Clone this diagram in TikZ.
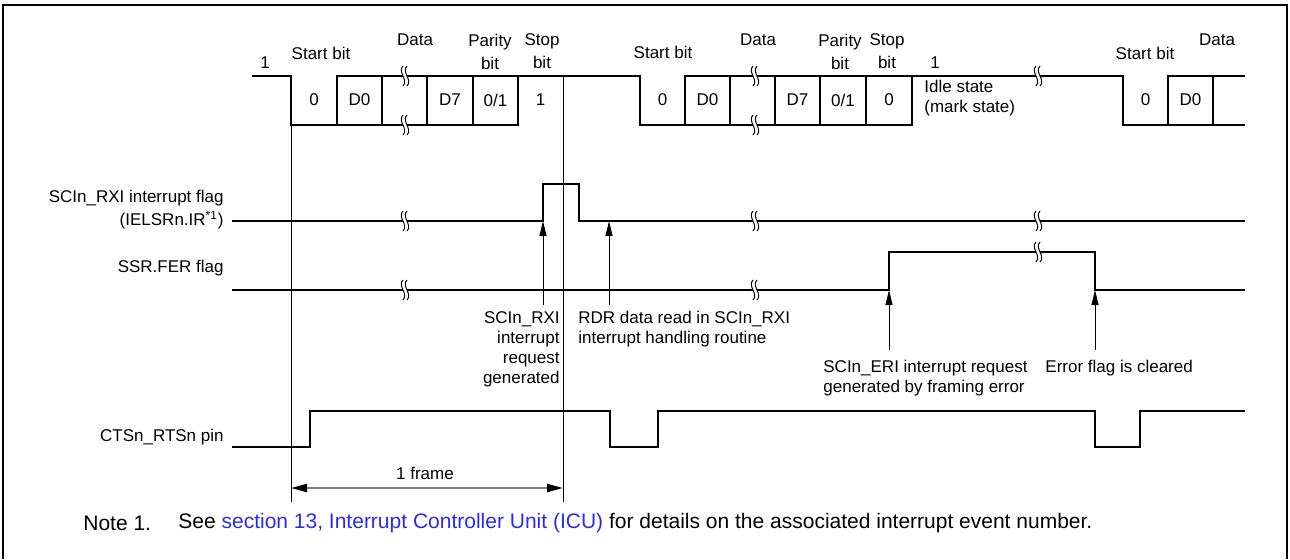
\documentclass[tikz,border=0pt]{standalone}
\usepackage{fontspec}
\setmainfont{Liberation Sans}
\usepackage{tikz}
\usetikzlibrary{arrows.meta,positioning}
\definecolor{linkblue}{HTML}{2B2BF0}
\definecolor{dimgray}{HTML}{7F7F7F}
\tikzset{
  wave/.style={line width=0.8pt,line join=miter},
  guide/.style={line width=0.5pt},
  border/.style={line width=1.3pt},
  uparrow/.style={guide,-{Triangle[length=7.5pt,width=3.5pt]}},
  dimline/.style={draw=dimgray,line width=1pt,
    {Triangle[length=8pt,width=4pt,color=black]}-{Triangle[length=8pt,width=4pt,color=black]}},
  lbl/.style={inner sep=0pt,font=\fontsize{8.5}{11.5}\selectfont},
  callout/.style={inner sep=0pt,font=\fontsize{8.5}{10}\selectfont},
  notelbl/.style={inner sep=0pt,anchor=west,font=\fontsize{10.5}{12}\selectfont},
  siglbl/.style={lbl,anchor=east,align=right}
}
\newcommand{\wavebreak}[2]{%
  \fill[white] (#1-1.6,#2-2.5) rectangle (#1+1.6,#2+2.5);
  \draw[guide] (#1-2,#2-10) .. controls (#1-8,#2-4) and (#1+4,#2+4) .. (#1-2,#2+10);
  \draw[guide] (#1+2,#2-10) .. controls (#1-4,#2-4) and (#1+8,#2+4) .. (#1+2,#2+10);
}

\begin{document}
\begin{tikzpicture}[x=0.5pt,y=-0.5pt]
\useasboundingbox (0,0) rectangle (1290,559);
\draw[border] (3,559) -- (3,5) -- (1287,5) -- (1287,559);

\draw[wave] (252,76) -| (291,125) -- (518,125) -- (518,76);
\draw[wave] (337,125) |- (640,76) -- (640,125) -- (912,125) -- (912,76);
\draw[wave] (685,125) |- (1123,76) -- (1123,125) -- (1245,125);
\draw[wave] (1168,125) |- (1245,76);
\foreach \x in {382,427,473,730,775,820,866,1213}
  \draw[wave] (\x,76) -- (\x,125);

\draw[wave] (232,221) -- (543,221) |- (579,184) |- (1245,221);
\draw[wave] (232,290) -- (889,290) |- (1095,252) |- (1245,290);
\draw[wave] (232,447) -- (310,447) |- (610,411) |- (658,447) |- (1095,411) |- (1140,447) |- (1245,411);

\draw[guide] (291,125) -- (291,502);
\draw[guide] (563,76) -- (563,502);

\foreach \x/\y in {405/76,405/125,755/76,755/125,1038/76,405/221,755/221,1038/221,405/290,755/290,1038/252}
  \wavebreak{\x}{\y};

\node[lbl] (one1) at (265,63) {1};
\node[lbl] (start1) at (321,53) {Start bit};
\node[lbl] (data1) at (415,40) {Data};
\node[lbl,align=center] (par1) at (490,51.5) {Parity\\bit};
\node[lbl,align=center] (stop1) at (542,51.5) {Stop\\bit};
\node[lbl] (s01) at (314,100) {0};
\node[lbl] (d01) at (359.5,100) {D0};
\node[lbl] (d71) at (450,100) {D7};
\node[lbl] (p01) at (495.5,100) {0/1};
\node[lbl] (st1) at (540.5,100) {1};

\node[lbl] (start2) at (663,52) {Start bit};
\node[lbl] (data2) at (758,40) {Data};
\node[lbl,align=center] (par2) at (840,51.5) {Parity\\bit};
\node[lbl,align=center] (stop2) at (887,51.5) {Stop\\bit};
\node[lbl] (s02) at (662.5,100) {0};
\node[lbl] (d02) at (707.5,100) {D0};
\node[lbl] (d72) at (797.5,100) {D7};
\node[lbl] (p02) at (843,100) {0/1};
\node[lbl] (st2) at (889,100) {0};
\node[lbl] (one2) at (935,63) {1};
\node[callout,anchor=west,align=left] (idle) at (924,98) {Idle state\\(mark state)};

\node[lbl] (start3) at (1145,53) {Start bit};
\node[lbl] (data3) at (1217,40) {Data};
\node[lbl] (s03) at (1145.5,100) {0};
\node[lbl] (d03) at (1190.5,100) {D0};

\node[siglbl] (rxilbl) at (224,209.5) {SCIn\_RXI interrupt flag\\(IELSRn.IR\textsuperscript{*1})};
\node[siglbl] (ferlbl) at (224,268) {SSR.FER flag};
\node[siglbl] (ctslbl) at (224,437) {CTSn\_RTSn pin};

\coordinate (rxirise) at (543,221);
\coordinate (rxitail) at (543,305);
\coordinate (rdrtip) at (609,221);
\coordinate (rdrtail) at (609,305);
\coordinate (ferrise) at (889,290);
\coordinate (feritail) at (889,350);
\coordinate (ferfall) at (1095,290);
\coordinate (ferctail) at (1095,350);
\draw[uparrow] (rxitail) -- (rxirise);
\draw[uparrow] (rdrtail) -- (rdrtip);
\draw[uparrow] (feritail) -- (ferrise);
\draw[uparrow] (ferctail) -- (ferfall);

\node[callout,anchor=north east,align=right] (rxireq) at (560,311) {SCIn\_RXI\\interrupt\\request\\generated};
\node[callout,anchor=north west,align=left] (rdrread) at (578,311) {RDR data read in SCIn\_RXI\\interrupt handling routine};
\node[callout,anchor=north west,align=left] (erireq) at (823,360) {SCIn\_ERI interrupt request\\generated by framing error};
\node[callout,anchor=north west] (errclr) at (1045,360) {Error flag is cleared};

\coordinate (frameA) at (291,488);
\coordinate (frameB) at (563,488);
\draw[dimline] (frameA) -- (frameB);
\node[lbl] (framelbl) at (425,473) {1 frame};

\node[notelbl] (note) at (83,523) {Note 1.};
\node[notelbl] (notetext) at (178,523) {See \textcolor{linkblue}{section 13, Interrupt Controller Unit (ICU)} for details on the associated interrupt event number.};
\end{tikzpicture}
\end{document}
